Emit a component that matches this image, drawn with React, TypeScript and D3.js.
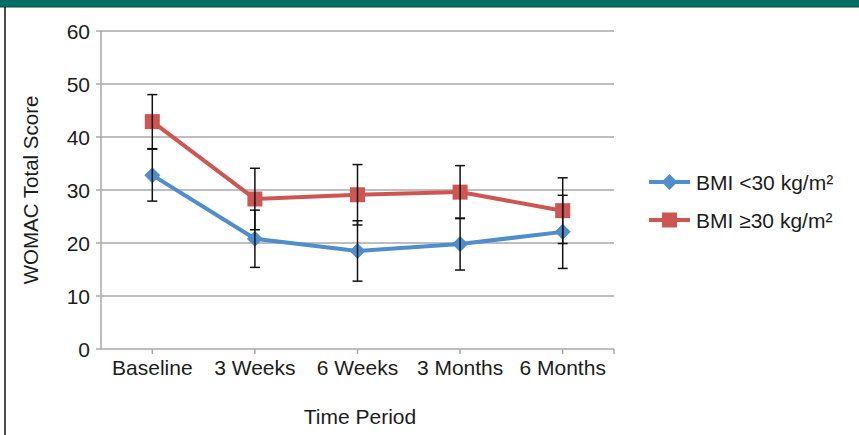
import React from "react";
import * as d3 from "d3";

const categories = ["Baseline", "3 Weeks", "6 Weeks", "3 Months", "6 Months"];
const bmiLowMean = [32.8, 20.8, 18.5, 19.8, 22.1];
const bmiLowErr = [4.9, 5.4, 5.7, 4.9, 6.9];
const bmiHighMean = [42.9, 28.3, 29.1, 29.6, 26.1];
const bmiHighErr = [5.1, 5.8, 5.7, 5.0, 6.2];
const yTicks = [0, 10, 20, 30, 40, 50, 60];
const seriesNames = ["BMI <30 kg/m²", "BMI ≥30 kg/m²"];

const W = 859;
const H = 435;
const FONT = "'Liberation Sans', Arial, Helvetica, sans-serif";
const BLUE = "#4F8DCB";
const RED = "#CE5652";
const GRID = "#A8A8A8";
const TEXT = "#1c1c1c";
const FS = 21;

export default function App() {
  const x = d3.scaleBand<string>().domain(categories).range([101, 614]);
  const cx = (c: string) => (x(c) as number) + x.bandwidth() / 2;
  const y = d3.scaleLinear().domain([0, 60]).range([349, 31]);

  const line = d3
    .line<number>()
    .x((_, i) => cx(categories[i]))
    .y((d) => y(d));

  const series = [
    { name: seriesNames[0], mean: bmiLowMean, err: bmiLowErr, color: BLUE, shape: "diamond" },
    { name: seriesNames[1], mean: bmiHighMean, err: bmiHighErr, color: RED, shape: "square" },
  ];

  const marker = (shape: string, px: number, py: number, color: string, key: string) =>
    shape === "square" ? (
      <rect key={key} x={px - 7.5} y={py - 7.5} width={15} height={15} fill={color} />
    ) : (
      <path
        key={key}
        d={`M${px},${py - 8}L${px + 8},${py}L${px},${py + 8}L${px - 8},${py}Z`}
        fill={color}
      />
    );

  return (
    <svg
      width={W}
      height={H}
      style={{ position: "absolute", left: 0, top: 0, display: "block" }}
      fontFamily={FONT}
    >
      <rect x={0} y={0} width={W} height={H} fill="#fff" />
      <rect x={0} y={0} width={W} height={7} fill="#006E62" />
      <line x1={0} x2={W} y1={7} y2={7} stroke="#004A42" strokeWidth={1} />
      <line x1={5} x2={5} y1={7} y2={H} stroke="#111" strokeWidth={1.5} />

      {/* gridlines */}
      {yTicks.slice(1).map((t) => (
        <line key={t} x1={101} x2={614} y1={y(t)} y2={y(t)} stroke={GRID} strokeWidth={1.5} />
      ))}
      {/* axes */}
      <line x1={101} x2={101} y1={y(60)} y2={y(0)} stroke={GRID} strokeWidth={1.5} />
      <line x1={101} x2={614} y1={y(0)} y2={y(0)} stroke={GRID} strokeWidth={1.5} />
      {yTicks.map((t) => (
        <g key={t}>
          <line x1={96} x2={101} y1={y(t)} y2={y(t)} stroke={GRID} strokeWidth={1.5} />
          <text x={90} y={y(t)} dy="0.36em" textAnchor="end" fontSize={FS} fill={TEXT}>
            {t}
          </text>
        </g>
      ))}
      {categories.map((c) => (
        <g key={c}>
          <line x1={cx(c)} x2={cx(c)} y1={y(0)} y2={y(0) + 5} stroke={GRID} strokeWidth={1.5} />
          <text x={cx(c)} y={375} textAnchor="middle" fontSize={FS} fill={TEXT}>
            {c}
          </text>
        </g>
      ))}
      <line x1={614} x2={614} y1={y(0)} y2={y(0) + 5} stroke={GRID} strokeWidth={1.5} />

      <text x={360} y={424} textAnchor="middle" fontSize={FS} fill={TEXT}>
        Time Period
      </text>
      <text
        transform={`translate(38,${(y(0) + y(60)) / 2}) rotate(-90)`}
        textAnchor="middle"
        fontSize={20.5}
        fill={TEXT}
      >
        WOMAC Total Score
      </text>

      {/* series lines */}
      {series.map((s) => (
        <path key={s.name} d={line(s.mean) || ""} fill="none" stroke={s.color} strokeWidth={4} />
      ))}
      {/* markers */}
      {series.map((s) =>
        s.mean.map((v, i) => marker(s.shape, cx(categories[i]), y(v), s.color, s.name + i))
      )}
      {/* error bars */}
      {series.map((s) =>
        s.mean.map((v, i) => {
          const px = cx(categories[i]);
          const hi = y(v + s.err[i]);
          const lo = y(v - s.err[i]);
          return (
            <g key={"e" + s.name + i} stroke="#111" strokeWidth={1.5}>
              <line x1={px} x2={px} y1={hi} y2={lo} />
              <line x1={px - 5} x2={px + 5} y1={hi} y2={hi} />
              <line x1={px - 5} x2={px + 5} y1={lo} y2={lo} />
            </g>
          );
        })
      )}

      {/* legend */}
      {series.map((s, i) => {
        const ly = 182 + i * 38;
        return (
          <g key={"l" + s.name}>
            <line x1={649} x2={690} y1={ly} y2={ly} stroke={s.color} strokeWidth={4} />
            {marker(s.shape, 669.5, ly, s.color, "lm" + i)}
            <text x={696} y={ly} dy="0.36em" fontSize={FS} fill={TEXT}>
              {s.name}
            </text>
          </g>
        );
      })}
    </svg>
  );
}
